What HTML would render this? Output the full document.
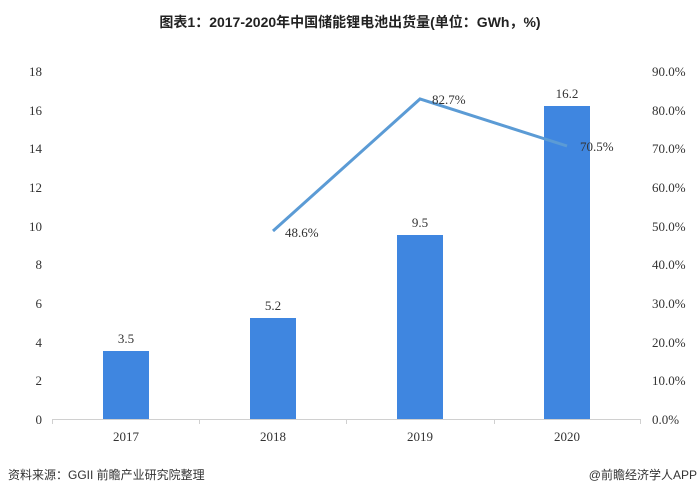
<!DOCTYPE html>
<html><head><meta charset="utf-8"><style>
body{margin:0;background:#fff;width:700px;height:496px;overflow:hidden}
svg text{font-family:"Liberation Serif","Noto Serif CJK SC",serif;fill:#333}
</style></head><body>
<svg width="700" height="496" xmlns="http://www.w3.org/2000/svg">
<text x="350" y="27" text-anchor="middle" style="font-family:'Liberation Sans','Noto Sans CJK SC',sans-serif;font-weight:bold;font-size:14px;fill:#222">图表1：2017-2020年中国储能锂电池出货量(单位：GWh，%)</text>
<g font-size="13" text-anchor="end">
<text x="42" y="424">0</text><text x="42" y="385">2</text><text x="42" y="347">4</text><text x="42" y="308">6</text><text x="42" y="269">8</text><text x="42" y="231">10</text><text x="42" y="192">12</text><text x="42" y="153">14</text><text x="42" y="115">16</text><text x="42" y="76">18</text>
</g>
<g font-size="13" text-anchor="start">
<text x="652" y="424">0.0%</text><text x="652" y="385">10.0%</text><text x="652" y="347">20.0%</text><text x="652" y="308">30.0%</text><text x="652" y="269">40.0%</text><text x="652" y="231">50.0%</text><text x="652" y="192">60.0%</text><text x="652" y="153">70.0%</text><text x="652" y="115">80.0%</text><text x="652" y="76">90.0%</text>
</g>
<line x1="52" y1="419.5" x2="641" y2="419.5" stroke="#d0d0d0"/>
<g stroke="#d0d0d0"><line x1="52.5" y1="419" x2="52.5" y2="424"/><line x1="199.5" y1="419" x2="199.5" y2="424"/><line x1="346.5" y1="419" x2="346.5" y2="424"/><line x1="494.5" y1="419" x2="494.5" y2="424"/><line x1="640.5" y1="419" x2="640.5" y2="424"/></g>
<g fill="#3f86e0">
<rect x="103" y="351" width="46" height="68"/>
<rect x="250" y="318" width="46" height="101"/>
<rect x="397" y="235" width="46" height="184"/>
<rect x="544" y="106" width="46" height="313"/>
</g>
<g font-size="13" text-anchor="middle">
<text x="126" y="343">3.5</text><text x="273" y="310">5.2</text><text x="420" y="227">9.5</text><text x="567" y="98">16.2</text>
<text x="126" y="441">2017</text><text x="273" y="441">2018</text><text x="420" y="441">2019</text><text x="567" y="441">2020</text>
</g>
<polyline points="273,231 420,99 567,146" fill="none" stroke="#5b9bd5" stroke-width="3"/>
<g font-size="13">
<text x="285" y="237">48.6%</text><text x="432" y="104">82.7%</text><text x="580" y="151">70.5%</text>
</g>
<text x="8" y="479" style="font-family:'Liberation Sans','Noto Sans CJK SC',sans-serif;font-size:12px;fill:#333">资料来源：GGII 前瞻产业研究院整理</text>
<text x="697" y="479" text-anchor="end" style="font-family:'Liberation Sans','Noto Sans CJK SC',sans-serif;font-size:12px;fill:#333">@前瞻经济学人APP</text>
</svg>
</body></html>
